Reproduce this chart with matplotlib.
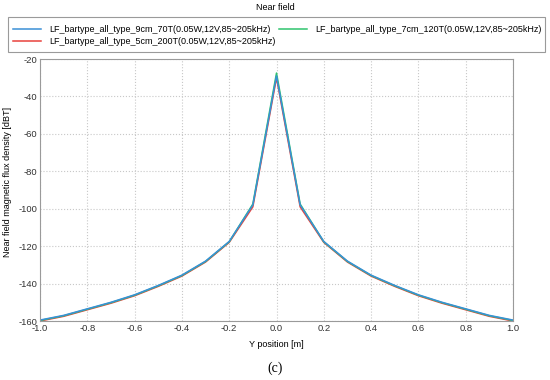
import matplotlib
matplotlib.use('Agg')
import matplotlib.pyplot as plt
from matplotlib.patches import Rectangle

plt.rcParams['font.family'] = ['Liberation Sans', 'DejaVu Sans']
plt.rcParams['axes.unicode_minus'] = False

y_pos = [-1.0, -0.9, -0.8, -0.7, -0.6, -0.5, -0.4, -0.3, -0.2, -0.1, 0.0,
         0.1, 0.2, 0.3, 0.4, 0.5, 0.6, 0.7, 0.8, 0.9, 1.0]
b_9cm = [-159.5, -157, -153.5, -150, -146, -141, -135.5, -128, -117.5, -98, -29,
         -98, -117.5, -128, -135.5, -141, -146, -150, -153.5, -157, -159.5]
b_7cm = [-159.7, -157.2, -153.7, -150.2, -146.2, -141.2, -135.7, -128.2, -117.7, -97.5, -27.5,
         -97.5, -117.7, -128.2, -135.7, -141.2, -146.2, -150.2, -153.7, -157.2, -159.7]
b_5cm = [-160, -157.5, -154, -150.5, -146.5, -141.5, -136, -128.5, -118, -99, -30,
         -99, -118, -128.5, -136, -141.5, -146.5, -150.5, -154, -157.5, -160]
labels = ['LF_bartype_all_type_9cm_70T(0.05W,12V,85~205kHz)',
          'LF_bartype_all_type_7cm_120T(0.05W,12V,85~205kHz)',
          'LF_bartype_all_type_5cm_200T(0.05W,12V,85~205kHz)']

fig = plt.figure(figsize=(5.5, 3.8), dpi=100)
ax = fig.add_axes([40/550, 1-321/380, 473/550, 262/380])

l_red, = ax.plot(y_pos, b_5cm, color='#e8413c', lw=1.1, label=labels[2])
l_green, = ax.plot(y_pos, b_7cm, color='#2fc46e', lw=1.1, label=labels[1])
l_blue, = ax.plot(y_pos, b_9cm, color='#3a8fd6', lw=1.1, label=labels[0])

ax.set_xlim(-1.0, 1.0)
ax.set_ylim(-160, -20)
ax.set_xticks([-1.0, -0.8, -0.6, -0.4, -0.2, 0.0, 0.2, 0.4, 0.6, 0.8, 1.0])
ax.set_yticks(range(-160, -19, 20))
ax.xaxis.set_major_formatter(matplotlib.ticker.FormatStrFormatter('%.1f'))
ax.tick_params(length=0, labelsize=6.8, pad=2, colors='#333333')
ax.grid(True, ls=':', color='#c8c8c8', lw=0.8)
for s in ax.spines.values():
    s.set_color('#9a9a9a')
    s.set_linewidth(0.8)

ax.set_xlabel('Y position [m]', fontsize=6.5, labelpad=5)
ax.set_ylabel('Near field magnetic flux density [dBT]', fontsize=6.5)
ax.yaxis.set_label_coords(-0.06, 0.53)

fig.text(0.5, 1-8/380, 'Near field', ha='center', va='center', fontsize=6.5)

# legend frame drawn separately so it spans the full width
fig.patches.append(Rectangle((8/550, 1-52/380), 537/550, 35/380, transform=fig.transFigure,
                             fill=False, edgecolor='#9a9a9a', lw=0.8))
fig.legend(handles=[l_blue, l_red, l_green],
           labels=[labels[0], labels[2], labels[1]],
           ncol=2, loc='upper left', bbox_to_anchor=(10/550, 1-22/380),
           fontsize=6.5, frameon=False, handlelength=3.1, handletextpad=0.9,
           columnspacing=0.4, borderaxespad=0, labelspacing=0.35, borderpad=0.3)
fig.text(0.5, 1-368/380, '(c)', ha='center', va='center', fontsize=10, family='Liberation Serif')

fig.savefig('out.png', dpi=100)
